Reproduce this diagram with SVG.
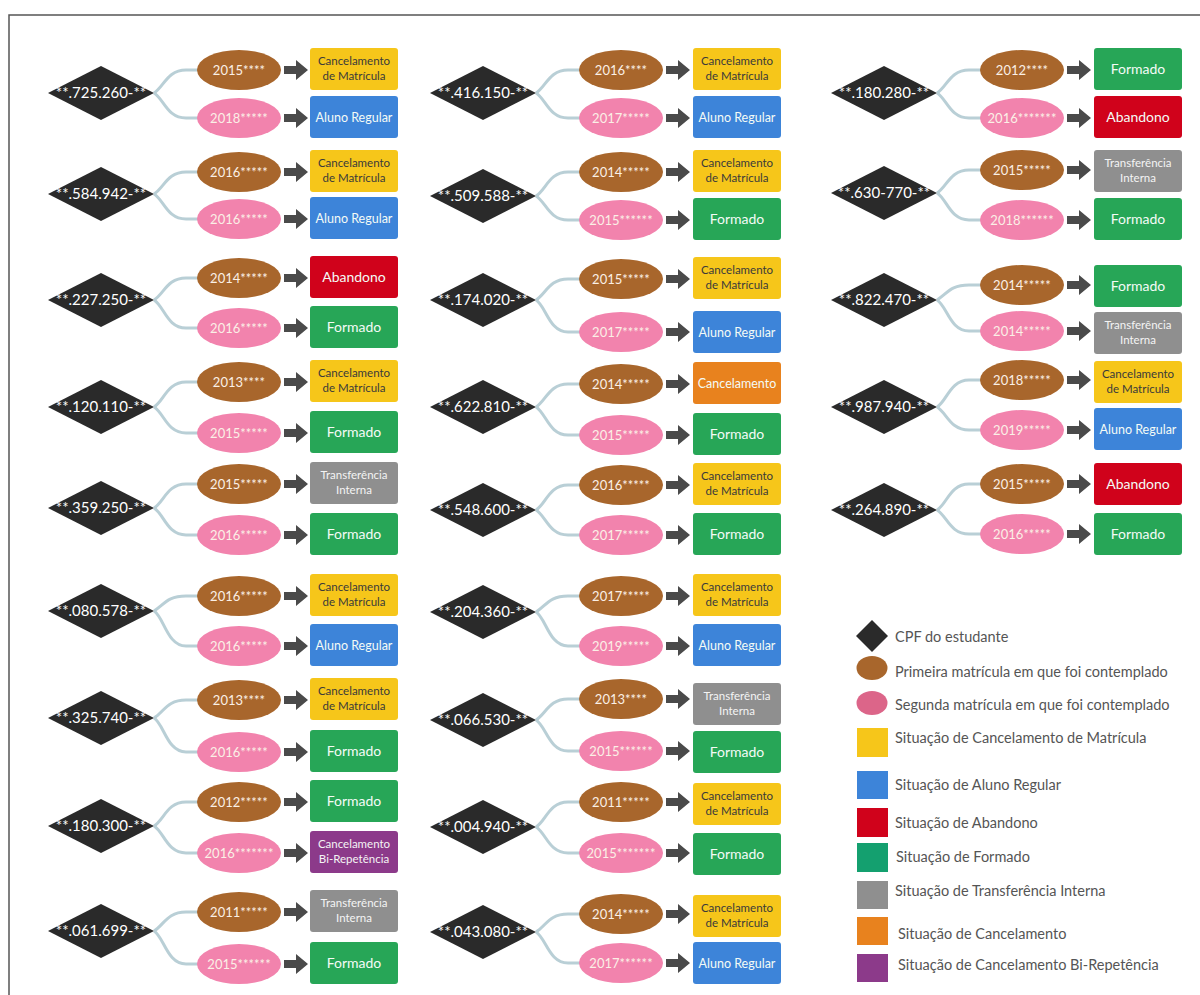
<svg xmlns="http://www.w3.org/2000/svg" xmlns:xlink="http://www.w3.org/1999/xlink" width="1200" height="995" viewBox="0 0 1200 995">
<defs>
<path id="dia" d="M-53,0 L0,-27 L53,0 L0,27Z"/>
<path id="ar" d="M0,-4 H12 V-10 L24,0 L12,10 V4 H0Z"/>
<style>
text{font-family:Lato,"Open Sans","Liberation Sans",sans-serif}
.d{fill:#2a2a2a}
.dt{fill:#ffffff;font-size:15px;text-anchor:middle}
.e1{fill:#a8662c}
.e2{fill:#f283ad}
.et{font-size:13px;text-anchor:middle;fill:#fbf0e6}
.by{fill:#f6c61a}.bb{fill:#3d84d9}.br{fill:#d0021b}.bg{fill:#27a657}.bgr{fill:#8f8f8f}.bo{fill:#e8821e}.bp{fill:#8c3a8a}
.bt{font-size:14px;text-anchor:middle;fill:#f4fbf6}
.bs{font-size:12.5px}
.b2{font-size:11.5px;text-anchor:middle;fill:#f4f4f4}
.dk{fill:#3a3a3a}
.conn path{fill:none;stroke:#b9cfd6;stroke-width:3}
.arr{fill:#4a4a4a}
.lt{font-size:14.5px;fill:#555}
</style>
</defs>
<rect width="1200" height="995" fill="#fff"/>
<path d="M9,995 V15 H1200" fill="none" stroke="#555" stroke-width="1.5"/>

<g id="connectors" class="conn">
<path d="M154,93 C164,87 167,70 186,70 H200"/><path d="M154,93 C164,99 167,118 186,118 H200"/>
<path d="M154,194 C164,188 167,172 186,172 H200"/><path d="M154,194 C164,200 167,219 186,219 H200"/>
<path d="M154,300 C164,294 167,278 186,278 H200"/><path d="M154,300 C164,306 167,328 186,328 H200"/>
<path d="M154,407 C164,401 167,382 186,382 H200"/><path d="M154,407 C164,413 167,433 186,433 H200"/>
<path d="M154,508 C164,502 167,484 186,484 H200"/><path d="M154,508 C164,514 167,535 186,535 H200"/>
<path d="M154,611 C164,605 167,596 186,596 H200"/><path d="M154,611 C164,617 167,646 186,646 H200"/>
<path d="M154,718 C164,712 167,700 186,700 H200"/><path d="M154,718 C164,724 167,752 186,752 H200"/>
<path d="M154,826 C164,820 167,802 186,802 H200"/><path d="M154,826 C164,832 167,853 186,853 H200"/>
<path d="M154,931 C164,925 167,912 186,912 H200"/><path d="M154,931 C164,937 167,964 186,964 H200"/>

<path d="M536,93 C546,87 549,70 568,70 H582"/><path d="M536,93 C546,99 549,118 568,118 H582"/>
<path d="M536,196 C546,190 549,172 568,172 H582"/><path d="M536,196 C546,202 549,220 568,220 H582"/>
<path d="M536,300 C546,294 549,279 568,279 H582"/><path d="M536,300 C546,306 549,332 568,332 H582"/>
<path d="M536,407 C546,401 549,384 568,384 H582"/><path d="M536,407 C546,413 549,435 568,435 H582"/>
<path d="M536,510 C546,504 549,485 568,485 H582"/><path d="M536,510 C546,516 549,535 568,535 H582"/>
<path d="M536,612 C546,606 549,596 568,596 H582"/><path d="M536,612 C546,618 549,646 568,646 H582"/>
<path d="M536,720 C546,714 549,699 568,699 H582"/><path d="M536,720 C546,726 549,751 568,751 H582"/>
<path d="M536,827 C546,821 549,802 568,802 H582"/><path d="M536,827 C546,833 549,853 568,853 H582"/>
<path d="M536,932 C546,926 549,914 568,914 H582"/><path d="M536,932 C546,938 549,963 568,963 H582"/>

<path d="M937,93 C947,87 950,70 969,70 H983"/><path d="M937,93 C947,99 950,118 969,118 H983"/>
<path d="M937,193 C947,187 950,170 969,170 H983"/><path d="M937,193 C947,199 950,220 969,220 H983"/>
<path d="M937,300 C947,294 950,285 969,285 H983"/><path d="M937,300 C947,306 950,331 969,331 H983"/>
<path d="M937,407 C947,401 950,380 969,380 H983"/><path d="M937,407 C947,413 950,430 969,430 H983"/>
<path d="M937,510 C947,504 950,484 969,484 H983"/><path d="M937,510 C947,516 950,534 969,534 H983"/>

<g class="arr">
<use href="#ar" x="284" y="70"/><use href="#ar" x="284" y="118"/>
<use href="#ar" x="284" y="172"/><use href="#ar" x="284" y="219"/>
<use href="#ar" x="284" y="278"/><use href="#ar" x="284" y="328"/>
<use href="#ar" x="284" y="382"/><use href="#ar" x="284" y="433"/>
<use href="#ar" x="284" y="484"/><use href="#ar" x="284" y="535"/>
<use href="#ar" x="284" y="596"/><use href="#ar" x="284" y="646"/>
<use href="#ar" x="284" y="700"/><use href="#ar" x="284" y="752"/>
<use href="#ar" x="284" y="802"/><use href="#ar" x="284" y="853"/>
<use href="#ar" x="284" y="912"/><use href="#ar" x="284" y="964"/>
<use href="#ar" x="666" y="70"/><use href="#ar" x="666" y="118"/>
<use href="#ar" x="666" y="172"/><use href="#ar" x="666" y="220"/>
<use href="#ar" x="666" y="279"/><use href="#ar" x="666" y="332"/>
<use href="#ar" x="666" y="384"/><use href="#ar" x="666" y="435"/>
<use href="#ar" x="666" y="485"/><use href="#ar" x="666" y="535"/>
<use href="#ar" x="666" y="596"/><use href="#ar" x="666" y="646"/>
<use href="#ar" x="666" y="699"/><use href="#ar" x="666" y="751"/>
<use href="#ar" x="666" y="802"/><use href="#ar" x="666" y="853"/>
<use href="#ar" x="666" y="914"/><use href="#ar" x="666" y="963"/>
<use href="#ar" x="1067" y="70"/><use href="#ar" x="1067" y="118"/>
<use href="#ar" x="1067" y="170"/><use href="#ar" x="1067" y="220"/>
<use href="#ar" x="1067" y="285"/><use href="#ar" x="1067" y="331"/>
<use href="#ar" x="1067" y="380"/><use href="#ar" x="1067" y="430"/>
<use href="#ar" x="1067" y="484"/><use href="#ar" x="1067" y="534"/>
</g>
</g>

<!-- Column 1 -->
<g id="d-c1r1"><use href="#dia" class="d" x="101" y="93"/><text class="dt" x="101" y="98">**.725.260-**</text></g>
<g id="e1-c1r1"><ellipse class="e1" cx="239" cy="70" rx="42" ry="20"/><text class="et" x="239" y="75">2015****</text></g>
<g id="e2-c1r1"><ellipse class="e2" cx="239" cy="118" rx="42" ry="20"/><text class="et" x="239" y="123">2018*****</text></g>
<g id="b1-c1r1"><rect class="by" x="310" y="48" width="88" height="42" rx="3"/><text class="b2 dk"><tspan x="354" y="65">Cancelamento</tspan><tspan x="354" y="80">de Matrícula</tspan></text></g>
<g id="b2-c1r1"><rect class="bb" x="310" y="96" width="88" height="42" rx="3"/><text class="bt bs" x="354" y="122">Aluno Regular</text></g>

<g id="d-c1r2"><use href="#dia" class="d" x="101" y="194"/><text class="dt" x="101" y="199">**.584.942-**</text></g>
<g id="e1-c1r2"><ellipse class="e1" cx="239" cy="172" rx="42" ry="20"/><text class="et" x="239" y="177">2016*****</text></g>
<g id="e2-c1r2"><ellipse class="e2" cx="239" cy="219" rx="42" ry="20"/><text class="et" x="239" y="224">2016*****</text></g>
<g id="b1-c1r2"><rect class="by" x="310" y="150" width="88" height="42" rx="3"/><text class="b2 dk"><tspan x="354" y="167">Cancelamento</tspan><tspan x="354" y="182">de Matrícula</tspan></text></g>
<g id="b2-c1r2"><rect class="bb" x="310" y="197" width="88" height="42" rx="3"/><text class="bt bs" x="354" y="223">Aluno Regular</text></g>

<g id="d-c1r3"><use href="#dia" class="d" x="101" y="300"/><text class="dt" x="101" y="305">**.227.250-**</text></g>
<g id="e1-c1r3"><ellipse class="e1" cx="239" cy="278" rx="42" ry="20"/><text class="et" x="239" y="283">2014*****</text></g>
<g id="e2-c1r3"><ellipse class="e2" cx="239" cy="328" rx="42" ry="20"/><text class="et" x="239" y="333">2016*****</text></g>
<g id="b1-c1r3"><rect class="br" x="310" y="256" width="88" height="42" rx="3"/><text class="bt" x="354" y="282">Abandono</text></g>
<g id="b2-c1r3"><rect class="bg" x="310" y="306" width="88" height="42" rx="3"/><text class="bt" x="354" y="332">Formado</text></g>

<g id="d-c1r4"><use href="#dia" class="d" x="101" y="407"/><text class="dt" x="101" y="412">**.120.110-**</text></g>
<g id="e1-c1r4"><ellipse class="e1" cx="239" cy="382" rx="42" ry="20"/><text class="et" x="239" y="387">2013****</text></g>
<g id="e2-c1r4"><ellipse class="e2" cx="239" cy="433" rx="42" ry="20"/><text class="et" x="239" y="438">2015*****</text></g>
<g id="b1-c1r4"><rect class="by" x="310" y="360" width="88" height="42" rx="3"/><text class="b2 dk"><tspan x="354" y="377">Cancelamento</tspan><tspan x="354" y="392">de Matrícula</tspan></text></g>
<g id="b2-c1r4"><rect class="bg" x="310" y="411" width="88" height="42" rx="3"/><text class="bt" x="354" y="437">Formado</text></g>

<g id="d-c1r5"><use href="#dia" class="d" x="101" y="508"/><text class="dt" x="101" y="513">**.359.250-**</text></g>
<g id="e1-c1r5"><ellipse class="e1" cx="239" cy="484" rx="42" ry="20"/><text class="et" x="239" y="489">2015*****</text></g>
<g id="e2-c1r5"><ellipse class="e2" cx="239" cy="535" rx="42" ry="20"/><text class="et" x="239" y="540">2016*****</text></g>
<g id="b1-c1r5"><rect class="bgr" x="310" y="462" width="88" height="42" rx="3"/><text class="b2"><tspan x="354" y="479">Transferência</tspan><tspan x="354" y="494">Interna</tspan></text></g>
<g id="b2-c1r5"><rect class="bg" x="310" y="513" width="88" height="42" rx="3"/><text class="bt" x="354" y="539">Formado</text></g>

<g id="d-c1r6"><use href="#dia" class="d" x="101" y="611"/><text class="dt" x="101" y="616">**.080.578-**</text></g>
<g id="e1-c1r6"><ellipse class="e1" cx="239" cy="596" rx="42" ry="20"/><text class="et" x="239" y="601">2016*****</text></g>
<g id="e2-c1r6"><ellipse class="e2" cx="239" cy="646" rx="42" ry="20"/><text class="et" x="239" y="651">2016*****</text></g>
<g id="b1-c1r6"><rect class="by" x="310" y="574" width="88" height="42" rx="3"/><text class="b2 dk"><tspan x="354" y="591">Cancelamento</tspan><tspan x="354" y="606">de Matrícula</tspan></text></g>
<g id="b2-c1r6"><rect class="bb" x="310" y="624" width="88" height="42" rx="3"/><text class="bt bs" x="354" y="650">Aluno Regular</text></g>

<g id="d-c1r7"><use href="#dia" class="d" x="101" y="718"/><text class="dt" x="101" y="723">**.325.740-**</text></g>
<g id="e1-c1r7"><ellipse class="e1" cx="239" cy="700" rx="42" ry="20"/><text class="et" x="239" y="705">2013****</text></g>
<g id="e2-c1r7"><ellipse class="e2" cx="239" cy="752" rx="42" ry="20"/><text class="et" x="239" y="757">2016*****</text></g>
<g id="b1-c1r7"><rect class="by" x="310" y="678" width="88" height="42" rx="3"/><text class="b2 dk"><tspan x="354" y="695">Cancelamento</tspan><tspan x="354" y="710">de Matrícula</tspan></text></g>
<g id="b2-c1r7"><rect class="bg" x="310" y="730" width="88" height="42" rx="3"/><text class="bt" x="354" y="756">Formado</text></g>

<g id="d-c1r8"><use href="#dia" class="d" x="101" y="826"/><text class="dt" x="101" y="831">**.180.300-**</text></g>
<g id="e1-c1r8"><ellipse class="e1" cx="239" cy="802" rx="42" ry="20"/><text class="et" x="239" y="807">2012*****</text></g>
<g id="e2-c1r8"><ellipse class="e2" cx="239" cy="853" rx="42" ry="20"/><text class="et" x="239" y="858">2016*******</text></g>
<g id="b1-c1r8"><rect class="bg" x="310" y="780" width="88" height="42" rx="3"/><text class="bt" x="354" y="806">Formado</text></g>
<g id="b2-c1r8"><rect class="bp" x="310" y="831" width="88" height="42" rx="3"/><text class="b2"><tspan x="354" y="848">Cancelamento</tspan><tspan x="354" y="863">Bi-Repetência</tspan></text></g>

<g id="d-c1r9"><use href="#dia" class="d" x="101" y="931"/><text class="dt" x="101" y="936">**.061.699-**</text></g>
<g id="e1-c1r9"><ellipse class="e1" cx="239" cy="912" rx="42" ry="20"/><text class="et" x="239" y="917">2011*****</text></g>
<g id="e2-c1r9"><ellipse class="e2" cx="239" cy="964" rx="42" ry="20"/><text class="et" x="239" y="969">2015******</text></g>
<g id="b1-c1r9"><rect class="bgr" x="310" y="890" width="88" height="42" rx="3"/><text class="b2"><tspan x="354" y="907">Transferência</tspan><tspan x="354" y="922">Interna</tspan></text></g>
<g id="b2-c1r9"><rect class="bg" x="310" y="942" width="88" height="42" rx="3"/><text class="bt" x="354" y="968">Formado</text></g>

<!-- Column 2 -->
<g id="d-c2r1"><use href="#dia" class="d" x="483" y="93"/><text class="dt" x="483" y="98">**.416.150-**</text></g>
<g id="e1-c2r1"><ellipse class="e1" cx="621" cy="70" rx="42" ry="20"/><text class="et" x="621" y="75">2016****</text></g>
<g id="e2-c2r1"><ellipse class="e2" cx="621" cy="118" rx="42" ry="20"/><text class="et" x="621" y="123">2017*****</text></g>
<g id="b1-c2r1"><rect class="by" x="693" y="48" width="88" height="42" rx="3"/><text class="b2 dk"><tspan x="737" y="65">Cancelamento</tspan><tspan x="737" y="80">de Matrícula</tspan></text></g>
<g id="b2-c2r1"><rect class="bb" x="693" y="96" width="88" height="42" rx="3"/><text class="bt bs" x="737" y="122">Aluno Regular</text></g>

<g id="d-c2r2"><use href="#dia" class="d" x="483" y="196"/><text class="dt" x="483" y="201">**.509.588-**</text></g>
<g id="e1-c2r2"><ellipse class="e1" cx="621" cy="172" rx="42" ry="20"/><text class="et" x="621" y="177">2014*****</text></g>
<g id="e2-c2r2"><ellipse class="e2" cx="621" cy="220" rx="42" ry="20"/><text class="et" x="621" y="225">2015******</text></g>
<g id="b1-c2r2"><rect class="by" x="693" y="150" width="88" height="42" rx="3"/><text class="b2 dk"><tspan x="737" y="167">Cancelamento</tspan><tspan x="737" y="182">de Matrícula</tspan></text></g>
<g id="b2-c2r2"><rect class="bg" x="693" y="198" width="88" height="42" rx="3"/><text class="bt" x="737" y="224">Formado</text></g>

<g id="d-c2r3"><use href="#dia" class="d" x="483" y="300"/><text class="dt" x="483" y="305">**.174.020-**</text></g>
<g id="e1-c2r3"><ellipse class="e1" cx="621" cy="279" rx="42" ry="20"/><text class="et" x="621" y="284">2015*****</text></g>
<g id="e2-c2r3"><ellipse class="e2" cx="621" cy="332" rx="42" ry="20"/><text class="et" x="621" y="337">2017*****</text></g>
<g id="b1-c2r3"><rect class="by" x="693" y="257" width="88" height="42" rx="3"/><text class="b2 dk"><tspan x="737" y="274">Cancelamento</tspan><tspan x="737" y="289">de Matrícula</tspan></text></g>
<g id="b2-c2r3"><rect class="bb" x="693" y="311" width="88" height="42" rx="3"/><text class="bt bs" x="737" y="337">Aluno Regular</text></g>

<g id="d-c2r4"><use href="#dia" class="d" x="483" y="407"/><text class="dt" x="483" y="412">**.622.810-**</text></g>
<g id="e1-c2r4"><ellipse class="e1" cx="621" cy="384" rx="42" ry="20"/><text class="et" x="621" y="389">2014*****</text></g>
<g id="e2-c2r4"><ellipse class="e2" cx="621" cy="435" rx="42" ry="20"/><text class="et" x="621" y="440">2015*****</text></g>
<g id="b1-c2r4"><rect class="bo" x="693" y="362" width="88" height="42" rx="3"/><text class="bt bs" x="737" y="388">Cancelamento</text></g>
<g id="b2-c2r4"><rect class="bg" x="693" y="413" width="88" height="42" rx="3"/><text class="bt" x="737" y="439">Formado</text></g>

<g id="d-c2r5"><use href="#dia" class="d" x="483" y="510"/><text class="dt" x="483" y="515">**.548.600-**</text></g>
<g id="e1-c2r5"><ellipse class="e1" cx="621" cy="485" rx="42" ry="20"/><text class="et" x="621" y="490">2016*****</text></g>
<g id="e2-c2r5"><ellipse class="e2" cx="621" cy="535" rx="42" ry="20"/><text class="et" x="621" y="540">2017*****</text></g>
<g id="b1-c2r5"><rect class="by" x="693" y="463" width="88" height="42" rx="3"/><text class="b2 dk"><tspan x="737" y="480">Cancelamento</tspan><tspan x="737" y="495">de Matrícula</tspan></text></g>
<g id="b2-c2r5"><rect class="bg" x="693" y="513" width="88" height="42" rx="3"/><text class="bt" x="737" y="539">Formado</text></g>

<g id="d-c2r6"><use href="#dia" class="d" x="483" y="612"/><text class="dt" x="483" y="617">**.204.360-**</text></g>
<g id="e1-c2r6"><ellipse class="e1" cx="621" cy="596" rx="42" ry="20"/><text class="et" x="621" y="601">2017*****</text></g>
<g id="e2-c2r6"><ellipse class="e2" cx="621" cy="646" rx="42" ry="20"/><text class="et" x="621" y="651">2019*****</text></g>
<g id="b1-c2r6"><rect class="by" x="693" y="574" width="88" height="42" rx="3"/><text class="b2 dk"><tspan x="737" y="591">Cancelamento</tspan><tspan x="737" y="606">de Matrícula</tspan></text></g>
<g id="b2-c2r6"><rect class="bb" x="693" y="624" width="88" height="42" rx="3"/><text class="bt bs" x="737" y="650">Aluno Regular</text></g>

<g id="d-c2r7"><use href="#dia" class="d" x="483" y="720"/><text class="dt" x="483" y="725">**.066.530-**</text></g>
<g id="e1-c2r7"><ellipse class="e1" cx="621" cy="699" rx="42" ry="20"/><text class="et" x="621" y="704">2013****</text></g>
<g id="e2-c2r7"><ellipse class="e2" cx="621" cy="751" rx="42" ry="20"/><text class="et" x="621" y="756">2015******</text></g>
<g id="b1-c2r7"><rect class="bgr" x="693" y="683" width="88" height="42" rx="3"/><text class="b2"><tspan x="737" y="700">Transferência</tspan><tspan x="737" y="715">Interna</tspan></text></g>
<g id="b2-c2r7"><rect class="bg" x="693" y="731" width="88" height="42" rx="3"/><text class="bt" x="737" y="757">Formado</text></g>

<g id="d-c2r8"><use href="#dia" class="d" x="483" y="827"/><text class="dt" x="483" y="832">**.004.940-**</text></g>
<g id="e1-c2r8"><ellipse class="e1" cx="621" cy="802" rx="42" ry="20"/><text class="et" x="621" y="807">2011*****</text></g>
<g id="e2-c2r8"><ellipse class="e2" cx="621" cy="853" rx="42" ry="20"/><text class="et" x="621" y="858">2015*******</text></g>
<g id="b1-c2r8"><rect class="by" x="693" y="783" width="88" height="42" rx="3"/><text class="b2 dk"><tspan x="737" y="800">Cancelamento</tspan><tspan x="737" y="815">de Matrícula</tspan></text></g>
<g id="b2-c2r8"><rect class="bg" x="693" y="833" width="88" height="42" rx="3"/><text class="bt" x="737" y="859">Formado</text></g>

<g id="d-c2r9"><use href="#dia" class="d" x="483" y="932"/><text class="dt" x="483" y="937">**.043.080-**</text></g>
<g id="e1-c2r9"><ellipse class="e1" cx="621" cy="914" rx="42" ry="20"/><text class="et" x="621" y="919">2014*****</text></g>
<g id="e2-c2r9"><ellipse class="e2" cx="621" cy="963" rx="42" ry="20"/><text class="et" x="621" y="968">2017******</text></g>
<g id="b1-c2r9"><rect class="by" x="693" y="895" width="88" height="42" rx="3"/><text class="b2 dk"><tspan x="737" y="912">Cancelamento</tspan><tspan x="737" y="927">de Matrícula</tspan></text></g>
<g id="b2-c2r9"><rect class="bb" x="693" y="942" width="88" height="42" rx="3"/><text class="bt bs" x="737" y="968">Aluno Regular</text></g>

<!-- Column 3 -->
<g id="d-c3r1"><use href="#dia" class="d" x="884" y="93"/><text class="dt" x="884" y="98">**.180.280-**</text></g>
<g id="e1-c3r1"><ellipse class="e1" cx="1022" cy="70" rx="42" ry="20"/><text class="et" x="1022" y="75">2012****</text></g>
<g id="e2-c3r1"><ellipse class="e2" cx="1022" cy="118" rx="42" ry="20"/><text class="et" x="1022" y="123">2016*******</text></g>
<g id="b1-c3r1"><rect class="bg" x="1094" y="48" width="88" height="42" rx="3"/><text class="bt" x="1138" y="74">Formado</text></g>
<g id="b2-c3r1"><rect class="br" x="1094" y="96" width="88" height="42" rx="3"/><text class="bt" x="1138" y="122">Abandono</text></g>

<g id="d-c3r2"><use href="#dia" class="d" x="884" y="193"/><text class="dt" x="884" y="198">**.630-770-**</text></g>
<g id="e1-c3r2"><ellipse class="e1" cx="1022" cy="170" rx="42" ry="20"/><text class="et" x="1022" y="175">2015*****</text></g>
<g id="e2-c3r2"><ellipse class="e2" cx="1022" cy="220" rx="42" ry="20"/><text class="et" x="1022" y="225">2018******</text></g>
<g id="b1-c3r2"><rect class="bgr" x="1094" y="150" width="88" height="42" rx="3"/><text class="b2"><tspan x="1138" y="167">Transferência</tspan><tspan x="1138" y="182">Interna</tspan></text></g>
<g id="b2-c3r2"><rect class="bg" x="1094" y="198" width="88" height="42" rx="3"/><text class="bt" x="1138" y="224">Formado</text></g>

<g id="d-c3r3"><use href="#dia" class="d" x="884" y="300"/><text class="dt" x="884" y="305">**.822.470-**</text></g>
<g id="e1-c3r3"><ellipse class="e1" cx="1022" cy="285" rx="42" ry="20"/><text class="et" x="1022" y="290">2014*****</text></g>
<g id="e2-c3r3"><ellipse class="e2" cx="1022" cy="331" rx="42" ry="20"/><text class="et" x="1022" y="336">2014*****</text></g>
<g id="b1-c3r3"><rect class="bg" x="1094" y="265" width="88" height="42" rx="3"/><text class="bt" x="1138" y="291">Formado</text></g>
<g id="b2-c3r3"><rect class="bgr" x="1094" y="312" width="88" height="42" rx="3"/><text class="b2"><tspan x="1138" y="329">Transferência</tspan><tspan x="1138" y="344">Interna</tspan></text></g>

<g id="d-c3r4"><use href="#dia" class="d" x="884" y="407"/><text class="dt" x="884" y="412">**.987.940-**</text></g>
<g id="e1-c3r4"><ellipse class="e1" cx="1022" cy="380" rx="42" ry="20"/><text class="et" x="1022" y="385">2018*****</text></g>
<g id="e2-c3r4"><ellipse class="e2" cx="1022" cy="430" rx="42" ry="20"/><text class="et" x="1022" y="435">2019*****</text></g>
<g id="b1-c3r4"><rect class="by" x="1094" y="361" width="88" height="42" rx="3"/><text class="b2 dk"><tspan x="1138" y="378">Cancelamento</tspan><tspan x="1138" y="393">de Matrícula</tspan></text></g>
<g id="b2-c3r4"><rect class="bb" x="1094" y="408" width="88" height="42" rx="3"/><text class="bt bs" x="1138" y="434">Aluno Regular</text></g>

<g id="d-c3r5"><use href="#dia" class="d" x="884" y="510"/><text class="dt" x="884" y="515">**.264.890-**</text></g>
<g id="e1-c3r5"><ellipse class="e1" cx="1022" cy="484" rx="42" ry="20"/><text class="et" x="1022" y="489">2015*****</text></g>
<g id="e2-c3r5"><ellipse class="e2" cx="1022" cy="534" rx="42" ry="20"/><text class="et" x="1022" y="539">2016*****</text></g>
<g id="b1-c3r5"><rect class="br" x="1094" y="463" width="88" height="42" rx="3"/><text class="bt" x="1138" y="489">Abandono</text></g>
<g id="b2-c3r5"><rect class="bg" x="1094" y="513" width="88" height="42" rx="3"/><text class="bt" x="1138" y="539">Formado</text></g>

<!-- Legend -->
<g id="legend">
<path d="M872,620 L888,636 L872,652 L856,636Z" fill="#2a2a2a"/>
<text class="lt" x="895" y="642">CPF do estudante</text>
<ellipse cx="872" cy="668" rx="15.5" ry="12" fill="#a8662c"/>
<text class="lt" x="895" y="677">Primeira matrícula em que foi contemplado</text>
<ellipse cx="872" cy="703" rx="15.5" ry="12" fill="#dc6589"/>
<text class="lt" x="895" y="710">Segunda matrícula em que foi contemplado</text>
<rect x="857" y="728" width="31" height="29" fill="#f6c61a"/>
<text class="lt" x="895" y="743">Situação de Cancelamento de Matrícula</text>
<rect x="857" y="771" width="31" height="28" fill="#3d84d9"/>
<text class="lt" x="895" y="790">Situação de Aluno Regular</text>
<rect x="857" y="808" width="31" height="29" fill="#d0021b"/>
<text class="lt" x="895" y="828">Situação de Abandono</text>
<rect x="857" y="843" width="31" height="29" fill="#14a06f"/>
<text class="lt" x="896" y="862">Situação de Formado</text>
<rect x="857" y="881" width="31" height="28" fill="#8f8f8f"/>
<text class="lt" x="895" y="896">Situação de Transferência Interna</text>
<rect x="857" y="917" width="31" height="28" fill="#e8821e"/>
<text class="lt" x="898" y="939">Situação de Cancelamento</text>
<rect x="857" y="954" width="31" height="28" fill="#8c3a8a"/>
<text class="lt" x="898" y="970">Situação de Cancelamento Bi-Repetência</text>
</g>
</svg>
